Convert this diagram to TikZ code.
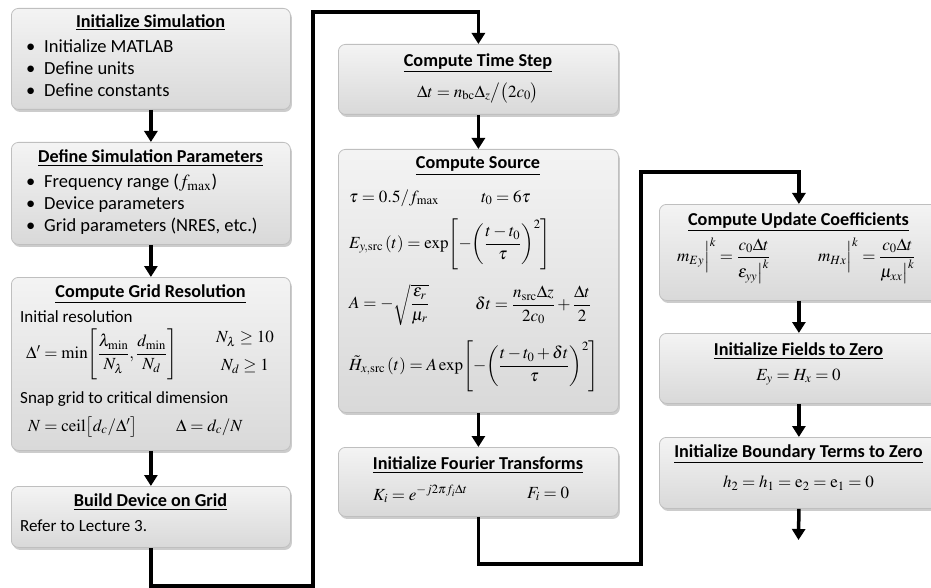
\documentclass[tikz,border=0pt]{standalone}
\usepackage{amsmath}
\usepackage{mathptmx}
\usepackage[no-math]{fontspec}
\setmainfont{Carlito}
\usetikzlibrary{arrows.meta,shadows}

\newcommand{\stagebullet}{\makebox[18pt][l]{\textbullet}}

\tikzset{
  stagebox/.style={draw=gray!50,line width=0.8pt,top color=gray!9,middle color=gray!18,
    bottom color=gray!30,rounded corners=7pt,
    drop shadow={opacity=0.4,shadow xshift=1.5pt,shadow yshift=-2.5pt},
    anchor=north west,inner sep=0pt},
  headtxt/.style={font=\fontsize{18.2}{21}\selectfont\bfseries,inner sep=0pt},
  listtxt/.style={font=\fontsize{18.5}{21}\selectfont,anchor=west,inner sep=0pt},
  bodytxt/.style={font=\fontsize{17}{19}\selectfont,anchor=west,inner sep=0pt},
  mathtxt/.style={font=\fontsize{17}{20}\selectfont,anchor=west,inner sep=0pt},
  flow/.style={line width=3.5pt,-{Triangle[width=13pt,length=11pt]}},
}

\begin{document}
\begin{tikzpicture}[x=1pt,y=-1pt]
  \useasboundingbox (0,0) rectangle (931,588);

  % left column
  \node[stagebox,minimum width=279pt,minimum height=101pt] (init) at (11,8) {};
  \node[headtxt] (init-head) at (150.5,22.5) {\underline{Initialize Simulation}};
  \node[listtxt] at (26,46.5) {\stagebullet Initialize MATLAB};
  \node[listtxt] at (26,68.5) {\stagebullet Define units};
  \node[listtxt] at (26,90.5) {\stagebullet Define constants};

  \node[stagebox,minimum width=279pt,minimum height=102pt] (params) at (11,142) {};
  \node[headtxt] (params-head) at (150.5,158) {\underline{Define Simulation Parameters}};
  \node[listtxt] at (26,183) {\stagebullet Frequency range ($f_{\max}$)};
  \node[listtxt] at (26,205) {\stagebullet Device parameters};
  \node[listtxt] at (26,226.5) {\stagebullet Grid parameters (NRES, etc.)};

  \node[stagebox,minimum width=279pt,minimum height=173pt] (grid) at (11,277) {};
  \node[headtxt] (grid-head) at (150.5,294) {\underline{Compute Grid Resolution}};
  \node[bodytxt] at (20,317) {Initial resolution};
  \node[mathtxt] at (26,354) {$\Delta' = \min\Biggl[\dfrac{\lambda_{\min}}{N_\lambda},\dfrac{d_{\min}}{N_d}\Biggr]$};
  \node[mathtxt] at (216,339) {$N_\lambda \geq 10$};
  \node[mathtxt] at (221,366) {$N_d \geq 1$};
  \node[bodytxt] at (20,399) {Snap grid to critical dimension};
  \node[mathtxt] at (28,427) {$N = \mathrm{ceil}\bigl[d_c/\Delta'\bigr]$};
  \node[mathtxt] at (176,427) {$\Delta = d_c/N$};

  \node[stagebox,minimum width=279pt,minimum height=61pt] (device) at (11,486) {};
  \node[headtxt] (device-head) at (150.5,502) {\underline{Build Device on Grid}};
  \node[bodytxt] at (20,526) {Refer to Lecture 3.};

  % middle column
  \node[stagebox,minimum width=280pt,minimum height=70pt] (tstep) at (338,44) {};
  \node[headtxt] (tstep-head) at (478,63) {\underline{Compute Time Step}};
  \node[mathtxt,anchor=center] at (478,93) {$\Delta t = n_{\mathrm{bc}}\Delta_z\big/\bigl(2c_0\bigr)$};

  \node[stagebox,minimum width=280pt,minimum height=263pt] (source) at (338,149) {};
  \node[headtxt] (source-head) at (478,166) {\underline{Compute Source}};
  \node[mathtxt] at (349,198) {$\tau = 0.5/f_{\max}$};
  \node[mathtxt] at (481,198) {$t_0 = 6\tau$};
  \node[mathtxt] at (349,244) {$E_{y,\mathrm{src}}\left(t\right) = \exp\Biggl[-\biggl(\dfrac{t-t_0}{\tau}\biggr)^{2}\Biggr]$};
  \node[mathtxt] at (349,305) {$A = -\sqrt{\dfrac{\varepsilon_r}{\mu_r}}$};
  \node[mathtxt] at (475,305) {$\delta t = \dfrac{n_{\mathrm{src}}\Delta z}{2c_0} + \dfrac{\Delta t}{2}$};
  \node[mathtxt] at (349,366) {$\tilde{H}_{x,\mathrm{src}}\left(t\right) = A\exp\Biggl[-\biggl(\dfrac{t-t_0+\delta t}{\tau}\biggr)^{2}\Biggr]$};

  \node[stagebox,minimum width=280pt,minimum height=69pt] (fourier) at (338,447) {};
  \node[headtxt] (fourier-head) at (478,465) {\underline{Initialize Fourier Transforms}};
  \node[mathtxt] at (373,494) {$K_i = e^{-j2\pi f_i\Delta t}$};
  \node[mathtxt] at (527,494) {$F_i = 0$};

  % right column
  \node[stagebox,minimum width=279pt,minimum height=96pt] (coeff) at (659,204) {};
  \node[headtxt] (coeff-head) at (798.5,222) {\underline{Compute Update Coefficients}};
  \node[mathtxt] at (677,261) {$m_{Ey}\Big|^{k} = \dfrac{c_0\Delta t}{\varepsilon_{yy}\big|^{k}}$};
  \node[mathtxt] at (818,261) {$m_{Hx}\Big|^{k} = \dfrac{c_0\Delta t}{\mu_{xx}\big|^{k}}$};

  \node[stagebox,minimum width=279pt,minimum height=70pt] (fields) at (659,333) {};
  \node[headtxt] (fields-head) at (798.5,351) {\underline{Initialize Fields to Zero}};
  \node[mathtxt,anchor=center] at (798.5,377) {$E_y = H_x = 0$};

  \node[stagebox,minimum width=279pt,minimum height=71pt] (boundary) at (659,437) {};
  \node[headtxt] (boundary-head) at (798.5,454) {\underline{Initialize Boundary Terms to Zero}};
  \node[mathtxt,anchor=center] at (798.5,483) {$h_2 = h_1 = \mathrm{e}_2 = \mathrm{e}_1 = 0$};

  % connectors
  \coordinate (done) at (798.5,540);
  \draw[flow] (init.south) -- (params.north);
  \draw[flow] (params.south) -- (grid.north);
  \draw[flow] (grid.south) -- (device.north);
  \draw[flow] (device.south) |- (313,586) -- (313,12) -| (tstep.north);
  \draw[flow] (tstep.south) -- (source.north);
  \draw[flow] (source.south) -- (fourier.north);
  \draw[flow] (fourier.south) |- (641,564) -- (641,172) -| (coeff.north);
  \draw[flow] (coeff.south) -- (fields.north);
  \draw[flow] (fields.south) -- (boundary.north);
  \draw[flow] (boundary.south) -- (done);
\end{tikzpicture}
\end{document}
